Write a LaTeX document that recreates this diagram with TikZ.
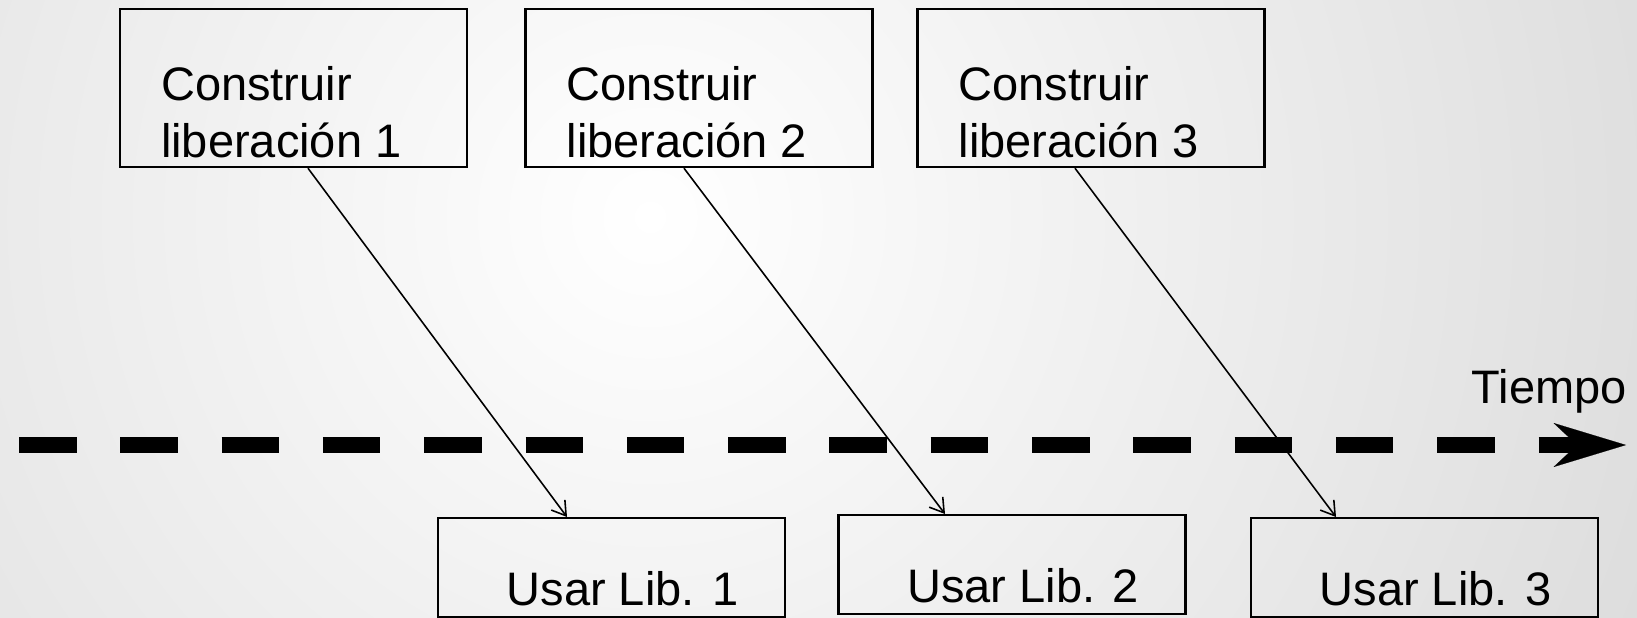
\documentclass[tikz,border=0pt]{standalone}
\usepackage{fontspec}
\setmainfont{Liberation Sans}
\usetikzlibrary{positioning,arrows.meta}
\tikzset{
  relbox/.style={draw, line width=1.4pt, minimum width=6.94cm, minimum height=3.16cm, inner sep=0pt},
  reltext/.style={inner sep=0pt, align=left, font=\fontsize{26.75}{32.4}\selectfont},
  usebox/.style={draw, line width=1.4pt, minimum width=6.94cm, inner sep=0pt,
    text height=1.75cm, text depth=0.23cm, font=\fontsize{26.75}{32.4}\selectfont,
    execute at begin node={\hspace*{0.44cm}}},
  flecha/.style={line width=0.9pt, -{Straight Barb[length=0.27cm,width=0.34cm]}},
  eje/.style={line width=0.32cm, dash pattern=on 1.15cm off 0.876cm,
    -{Stealth[length=1.45cm,width=0.88cm,inset=0.47cm,line width=0.1pt]}}
}
\begin{document}
\begin{tikzpicture}
    \useasboundingbox (0,0) rectangle (32.74,12.34);
    % fondo
    \begin{scope}
      \clip (0,0) rectangle (32.74,12.34);
      \shade[inner color=white, outer color=black!15] (13,8) circle (24);
    \end{scope}
    % liberaciones
    \node[relbox] (c1) at (5.87,10.58) {};
    \node[relbox] (c2) at (13.98,10.58) {};
    \node[relbox] (c3) at (21.82,10.58) {};
    \node[reltext, below right=1.16cm and 0.84cm of c1.north west] (c1t) {Construir\\liberación 1};
    \node[reltext, below right=1.16cm and 0.84cm of c2.north west] (c2t) {Construir\\liberación 2};
    \node[reltext, below right=1.16cm and 0.84cm of c3.north west] (c3t) {Construir\\liberación 3};
    % uso
    \node[usebox, anchor=north] (u1) at (12.23,2.0) {Usar Lib. 1};
    \node[usebox, anchor=north] (u2) at (20.24,2.06) {Usar Lib. 2};
    \node[usebox, anchor=north] (u3) at (28.49,2.0) {Usar Lib. 3};
    % tiempo
    \coordinate (t0) at (0.38,3.44);
    \coordinate (t1) at (32.52,3.44);
    \draw[eje] (t0) -- (t1);
    \node[anchor=base east, inner sep=0pt, font=\fontsize{26.75}{32.4}\selectfont] (tlab) at ([xshift=0.02cm,yshift=0.84cm]t1) {Tiempo};
    % flechas
    \draw[flecha] ([xshift=0.29cm]c1.south) -- ([xshift=-0.89cm]u1.north);
    \draw[flecha] ([xshift=-0.30cm]c2.south) -- ([xshift=-1.34cm]u2.north);
    \draw[flecha] ([xshift=-0.32cm]c3.south) -- ([xshift=-1.77cm]u3.north);
\end{tikzpicture}
\end{document}
